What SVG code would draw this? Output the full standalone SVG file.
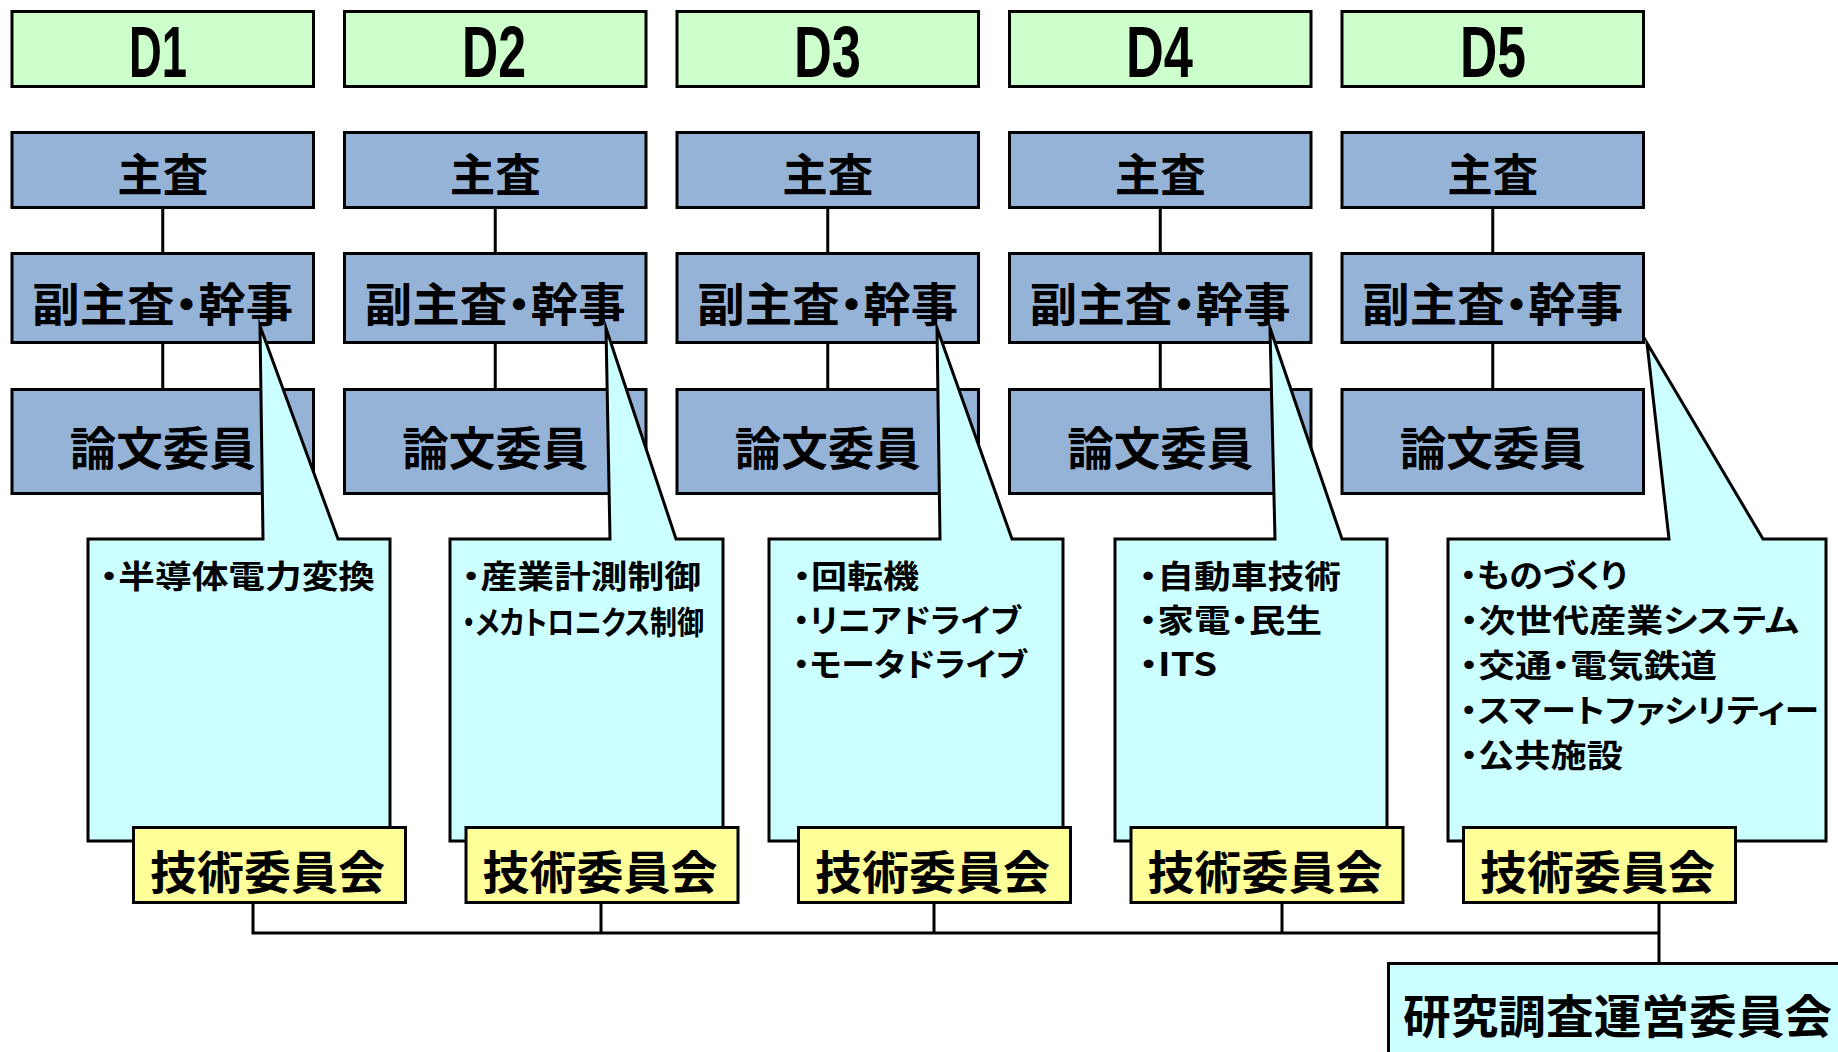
<svg xmlns="http://www.w3.org/2000/svg" width="1838" height="1052" viewBox="0 0 1838 1052">
<style>
.d{fill:#CCFFCC;stroke:#000;stroke-width:3}
.b{fill:#95B3D7;stroke:#000;stroke-width:3}
.c{fill:#CCFFFF;stroke:#000;stroke-width:3;stroke-linejoin:miter;stroke-miterlimit:10}
.y{fill:#FFFF99;stroke:#000;stroke-width:3}
.k{fill:#CCFFFF;stroke:#000;stroke-width:3}
.ln{fill:none;stroke:#000;stroke-width:3}
.dl{font-family:"Liberation Sans",Arial,sans-serif;font-size:72px;font-weight:bold;fill:#000;text-anchor:middle}
.jt{font-family:"Noto Sans CJK JP","Noto Sans CJK SC",sans-serif;font-weight:bold;fill:#000;text-anchor:middle;dominant-baseline:central;font-feature-settings:"palt"}
.ct{font-family:"Noto Sans CJK JP","Noto Sans CJK SC",sans-serif;font-weight:bold;fill:#000;dominant-baseline:central;font-size:32px;font-feature-settings:"palt"}
</style>
<g id="connectors">
<path class="ln" d="M162.75,209V253M162.75,343V389M495.25,209V253M495.25,343V389M827.75,209V253M827.75,343V389M1160.25,209V253M1160.25,343V389M1492.75,209V253M1492.75,343V389"/>
<path class="ln" d="M253,904V933H1659M601,904V933M934,904V933M1282,904V933M1659,904V963"/>
</g>
<g id="D1"><rect class="d" x="12" y="11.5" width="301.5" height="75"/><text class="dl" x="158" y="77" textLength="58" lengthAdjust="spacingAndGlyphs">D1</text></g>
<g id="D2"><rect class="d" x="344.5" y="11.5" width="301.5" height="75"/><text class="dl" x="494" y="77" textLength="64" lengthAdjust="spacingAndGlyphs">D2</text></g>
<g id="D3"><rect class="d" x="677" y="11.5" width="301.5" height="75"/><text class="dl" x="827.5" y="77" textLength="67" lengthAdjust="spacingAndGlyphs">D3</text></g>
<g id="D4"><rect class="d" x="1009.5" y="11.5" width="301.5" height="75"/><text class="dl" x="1159.5" y="77" textLength="67" lengthAdjust="spacingAndGlyphs">D4</text></g>
<g id="D5"><rect class="d" x="1342" y="11.5" width="301.5" height="75"/><text class="dl" x="1493" y="77" textLength="66" lengthAdjust="spacingAndGlyphs">D5</text></g>

<g id="shusa1"><rect class="b" x="12" y="132.5" width="301.5" height="75"/><text class="jt" x="162.75" y="172.5" font-size="45" textLength="91" lengthAdjust="spacingAndGlyphs">主査</text></g>
<g id="shusa2"><rect class="b" x="344.5" y="132.5" width="301.5" height="75"/><text class="jt" x="495.25" y="172.5" font-size="45" textLength="91" lengthAdjust="spacingAndGlyphs">主査</text></g>
<g id="shusa3"><rect class="b" x="677" y="132.5" width="301.5" height="75"/><text class="jt" x="827.75" y="172.5" font-size="45" textLength="91" lengthAdjust="spacingAndGlyphs">主査</text></g>
<g id="shusa4"><rect class="b" x="1009.5" y="132.5" width="301.5" height="75"/><text class="jt" x="1160.25" y="172.5" font-size="45" textLength="91" lengthAdjust="spacingAndGlyphs">主査</text></g>
<g id="shusa5"><rect class="b" x="1342" y="132.5" width="301.5" height="75"/><text class="jt" x="1492.75" y="172.5" font-size="45" textLength="91" lengthAdjust="spacingAndGlyphs">主査</text></g>

<g id="fuku1"><rect class="b" x="12" y="253.5" width="301.5" height="89"/><text class="jt" x="162.75" y="301" font-size="46" textLength="261" lengthAdjust="spacingAndGlyphs">副主査・幹事</text></g>
<g id="fuku2"><rect class="b" x="344.5" y="253.5" width="301.5" height="89"/><text class="jt" x="495.25" y="301" font-size="46" textLength="261" lengthAdjust="spacingAndGlyphs">副主査・幹事</text></g>
<g id="fuku3"><rect class="b" x="677" y="253.5" width="301.5" height="89"/><text class="jt" x="827.75" y="301" font-size="46" textLength="261" lengthAdjust="spacingAndGlyphs">副主査・幹事</text></g>
<g id="fuku4"><rect class="b" x="1009.5" y="253.5" width="301.5" height="89"/><text class="jt" x="1160.25" y="301" font-size="46" textLength="261" lengthAdjust="spacingAndGlyphs">副主査・幹事</text></g>
<g id="fuku5"><rect class="b" x="1342" y="253.5" width="301.5" height="89"/><text class="jt" x="1492.75" y="301" font-size="46" textLength="261" lengthAdjust="spacingAndGlyphs">副主査・幹事</text></g>

<g id="ronbun1"><rect class="b" x="12" y="389.5" width="301.5" height="104"/><text class="jt" x="162.75" y="445" font-size="46" textLength="186" lengthAdjust="spacingAndGlyphs">論文委員</text></g>
<g id="ronbun2"><rect class="b" x="344.5" y="389.5" width="301.5" height="104"/><text class="jt" x="495.25" y="445" font-size="46" textLength="186" lengthAdjust="spacingAndGlyphs">論文委員</text></g>
<g id="ronbun3"><rect class="b" x="677" y="389.5" width="301.5" height="104"/><text class="jt" x="827.75" y="445" font-size="46" textLength="186" lengthAdjust="spacingAndGlyphs">論文委員</text></g>
<g id="ronbun4"><rect class="b" x="1009.5" y="389.5" width="301.5" height="104"/><text class="jt" x="1160.25" y="445" font-size="46" textLength="186" lengthAdjust="spacingAndGlyphs">論文委員</text></g>
<g id="ronbun5"><rect class="b" x="1342" y="389.5" width="301.5" height="104"/><text class="jt" x="1492.75" y="445" font-size="46" textLength="186" lengthAdjust="spacingAndGlyphs">論文委員</text></g>

<g id="callout1"><polygon class="c" points="88,539 263,539 260,326 338,539 390,539 390,841 88,841"/>
<text class="ct" x="100" y="574" textLength="275" lengthAdjust="spacingAndGlyphs">・半導体電力変換</text></g>
<g id="callout2"><polygon class="c" points="450,539 610,539 606,328 676,539 723,539 723,841 450,841"/>
<text class="ct" x="462" y="574" textLength="239" lengthAdjust="spacingAndGlyphs">・産業計測制御</text>
<text class="ct" x="462" y="620" font-size="25" textLength="242" lengthAdjust="spacingAndGlyphs">・メカトロニクス制御</text></g>
<g id="callout3"><polygon class="c" points="769,539 940,539 937,328 1012,539 1063,539 1063,841 769,841"/>
<text class="ct" x="793" y="574" textLength="126" lengthAdjust="spacingAndGlyphs">・回転機</text>
<text class="ct" x="793" y="618" textLength="228" lengthAdjust="spacingAndGlyphs">・リニアドライブ</text>
<text class="ct" x="793" y="662" textLength="234" lengthAdjust="spacingAndGlyphs">・モータドライブ</text></g>
<g id="callout4"><polygon class="c" points="1115,539 1275,539 1270,328 1342,539 1387,539 1387,841 1115,841"/>
<text class="ct" x="1139" y="574" textLength="202" lengthAdjust="spacingAndGlyphs">・自動車技術</text>
<text class="ct" x="1139" y="618" textLength="183" lengthAdjust="spacingAndGlyphs">・家電・民生</text>
<text class="ct" x="1139" y="662" textLength="78" lengthAdjust="spacingAndGlyphs">・ITS</text></g>
<g id="callout5"><polygon class="c" points="1448,539 1669,539 1647,343 1763,539 1826,539 1826,841 1448,841"/>
<text class="ct" x="1460" y="573" font-size="31" textLength="167" lengthAdjust="spacingAndGlyphs">・ものづくり</text>
<text class="ct" x="1460" y="618" font-size="31" textLength="339" lengthAdjust="spacingAndGlyphs">・次世代産業システム</text>
<text class="ct" x="1460" y="663" font-size="31" textLength="257" lengthAdjust="spacingAndGlyphs">・交通・電気鉄道</text>
<text class="ct" x="1460" y="708" font-size="31" textLength="359" lengthAdjust="spacingAndGlyphs">・スマートファシリティー</text>
<text class="ct" x="1460" y="753" font-size="31" textLength="163" lengthAdjust="spacingAndGlyphs">・公共施設</text></g>

<g id="gijutsu1"><rect class="y" x="133.5" y="827.5" width="272" height="75"/><text class="jt" x="267.5" y="868.5" font-size="46" textLength="235" lengthAdjust="spacingAndGlyphs">技術委員会</text></g>
<g id="gijutsu2"><rect class="y" x="466" y="827.5" width="272" height="75"/><text class="jt" x="600" y="868.5" font-size="46" textLength="235" lengthAdjust="spacingAndGlyphs">技術委員会</text></g>
<g id="gijutsu3"><rect class="y" x="798.5" y="827.5" width="272" height="75"/><text class="jt" x="932.5" y="868.5" font-size="46" textLength="235" lengthAdjust="spacingAndGlyphs">技術委員会</text></g>
<g id="gijutsu4"><rect class="y" x="1131" y="827.5" width="272" height="75"/><text class="jt" x="1265" y="868.5" font-size="46" textLength="235" lengthAdjust="spacingAndGlyphs">技術委員会</text></g>
<g id="gijutsu5"><rect class="y" x="1463.5" y="827.5" width="272" height="75"/><text class="jt" x="1597.5" y="868.5" font-size="46" textLength="235" lengthAdjust="spacingAndGlyphs">技術委員会</text></g>

<g id="unei"><rect class="k" x="1388.5" y="963.5" width="470" height="110"/><text class="jt" x="1617.5" y="1012.5" font-size="46" textLength="429" lengthAdjust="spacingAndGlyphs">研究調査運営委員会</text></g>
</svg>
